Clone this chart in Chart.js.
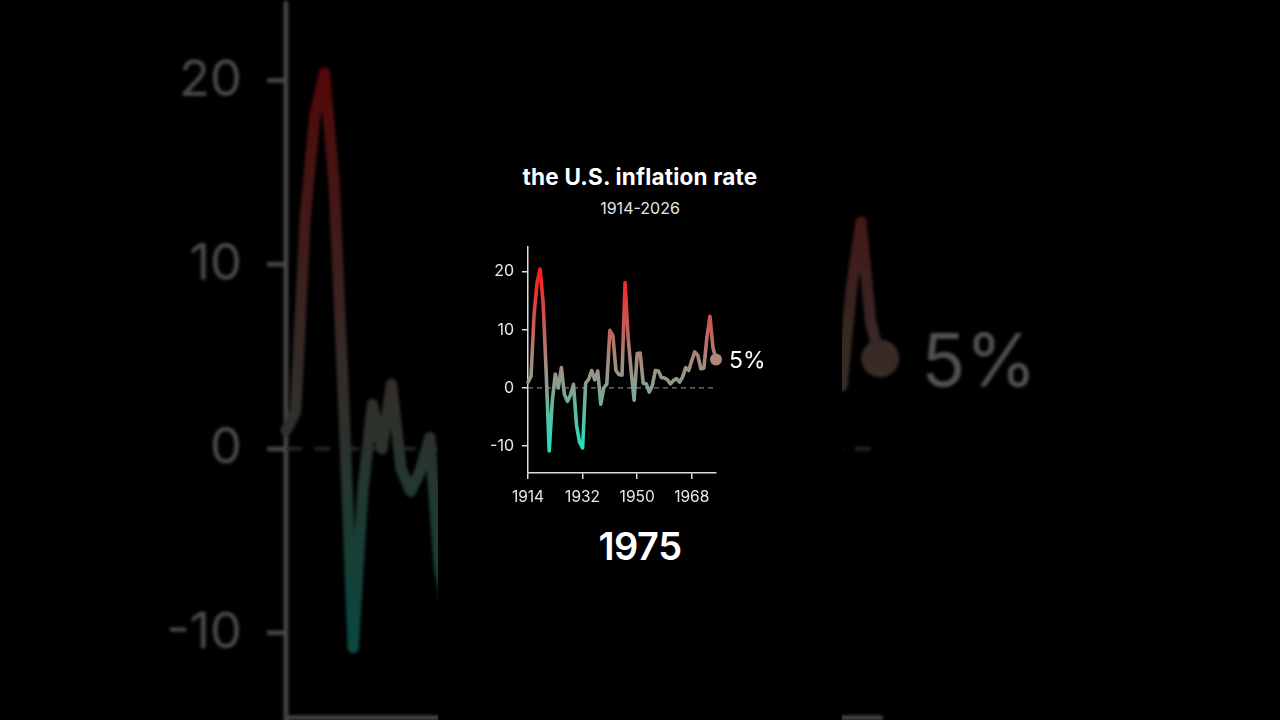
<!DOCTYPE html>
<html>
<head>
<meta charset="utf-8">
<script src="https://cdn.jsdelivr.net/npm/chart.js@4.4.1/dist/chart.umd.min.js"></script>
<style>
  html, body { margin: 0; padding: 0; background: #000; }
  body { width: 1280px; height: 720px; overflow: hidden; position: relative; font-family: Inter, "Noto Sans", sans-serif; }
  .wrap { position: absolute; left: 470px; top: 237px; width: 320px; height: 283px; }
  #bg { transform: scale(3.16); transform-origin: 170px 123px; opacity: 0.32; filter: blur(0.5px); }
  #mask { position: absolute; left: 438px; top: 0; width: 404px; height: 720px; background: #000; }
  .txt { position: absolute; left: 438px; width: 404px; text-align: center; color: #fff; }
  #title { top: 163px; font-size: 22.5px; font-weight: 700; letter-spacing: 0.2px; }
  #sub { top: 198px; font-size: 16px; color: #e6e6e6; }
  #year { top: 523px; font-size: 38px; font-weight: 600; letter-spacing: -0.5px; }
</style>
</head>
<body>
<div class="wrap" id="bg"><canvas id="bgChart" width="320" height="283"></canvas></div>
<div id="mask"></div>
<div class="wrap" id="fg"><canvas id="fgChart" width="320" height="283"></canvas></div>
<div class="txt" id="title">the U.S. inflation rate</div>
<div class="txt" id="sub">1914-2026</div>
<div class="txt" id="year">1975</div>
<script>
// годовая инфляция США, %, декабрь к декабрю
const years = [1914, 1915, 1916, 1917, 1918, 1919, 1920, 1921, 1922, 1923,
               1924, 1925, 1926, 1927, 1928, 1929, 1930, 1931, 1932, 1933,
               1934, 1935, 1936, 1937, 1938, 1939, 1940, 1941, 1942, 1943,
               1944, 1945, 1946, 1947, 1948, 1949, 1950, 1951, 1952, 1953,
               1954, 1955, 1956, 1957, 1958, 1959, 1960, 1961, 1962, 1963,
               1964, 1965, 1966, 1967, 1968, 1969, 1970, 1971, 1972, 1973,
               1974, 1975, 1976];
const rates = [1.0, 2.0, 12.6, 18.1, 20.4, 14.5, 2.6, -10.8, -2.3, 2.4,
               0.0, 3.5, -1.1, -2.3, -1.2, 0.6, -6.4, -9.3, -10.3, 0.8,
               1.5, 3.0, 1.4, 2.9, -2.8, 0.0, 0.7, 9.9, 9.0, 3.0,
               2.3, 2.2, 18.1, 8.8, 3.0, -2.1, 5.9, 6.0, 0.8, 0.7,
               -0.7, 0.4, 3.0, 2.9, 1.8, 1.7, 1.4, 0.7, 1.3, 1.6,
               1.0, 1.9, 3.5, 3.0, 4.7, 6.2, 5.6, 3.3, 3.4, 8.7,
               12.3, 6.9, 4.9];
const xTicks = [1914, 1932, 1950, 1968];
const yTicks = [-10, 0, 10, 20];
const lastLabel = '5%';

const axisColor = '#dcdcdc';

function lineGradient(ctx) {
    const chart = ctx.chart;
    if (!chart.chartArea) return '#999';
    const y = chart.scales.y;
    const g = chart.ctx.createLinearGradient(0, y.getPixelForValue(20), 0, y.getPixelForValue(-10));
    g.addColorStop(0, '#ff1c1c');
    g.addColorStop(0.33, '#c2605a');
    g.addColorStop(0.5, '#a8887a');
    g.addColorStop(0.67, '#86a290');
    g.addColorStop(1, '#22e0c0');
    return g;
}

// подпись значения справа от последней точки
const endLabel = {
    id: 'endLabel',
    afterDatasetsDraw(chart) {
        const meta = chart.getDatasetMeta(2);
        const pt = meta.data[0];
        if (!pt) return;
        const c = chart.ctx;
        c.save();
        c.font = '23px Inter, "Noto Sans", sans-serif';
        c.fillStyle = '#ffffff';
        c.textAlign = 'left';
        c.textBaseline = 'middle';
        c.fillText(lastLabel, pt.x + 13, pt.y + 2);
        c.restore();
    }
};

function makeChart(id, dpr) {
    const points = years.map((yr, i) => ({ x: yr, y: rates[i] }));
    const last = points[points.length - 1];
    return new Chart(document.getElementById(id), {
        type: 'line',
        data: {
            datasets: [
                {
                    data: points,
                    borderColor: lineGradient,
                    borderWidth: 3.6,
                    pointRadius: 0,
                    tension: 0,
                    borderJoinStyle: 'round',
                    borderCapStyle: 'round',
                    clip: false
                },
                {
                    data: [{ x: years[0], y: 0 }, { x: 1976, y: 0 }],
                    borderColor: '#7a7a7a',
                    borderWidth: 1.2,
                    borderDash: [5, 4],
                    pointRadius: 0,
                    order: 5
                },
                {
                    data: [last],
                    pointRadius: 6,
                    pointBackgroundColor: '#b08878',
                    pointBorderWidth: 0,
                    showLine: false,
                    clip: false
                }
            ]
        },
        options: {
            responsive: false,
            animation: false,
            devicePixelRatio: dpr,
            layout: { padding: { top: 10, right: 74, left: 0, bottom: 0 } },
            plugins: { legend: { display: false }, tooltip: { enabled: false } },
            scales: {
                x: {
                    type: 'linear',
                    min: 1914,
                    max: 1976,
                    afterBuildTicks: s => { s.ticks = xTicks.map(v => ({ value: v })); },
                    afterFit: s => { s.height = 47; s.paddingLeft = 0; s.paddingRight = 0; },
                    grid: { drawOnChartArea: false, drawTicks: true, tickLength: 6, color: axisColor, lineWidth: 1.5 },
                    border: { display: true, color: axisColor, width: 1.5 },
                    ticks: { color: '#e8e8e8', font: { family: 'Inter', size: 15.5 }, padding: 9, maxRotation: 0, callback: v => String(v) }
                },
                y: {
                    min: -14.6,
                    max: 24.2,
                    afterBuildTicks: s => { s.ticks = yTicks.map(v => ({ value: v })); },
                    afterFit: s => { s.width = 58; s.paddingTop = 0; s.paddingBottom = 0; },
                    grid: { drawOnChartArea: false, drawTicks: true, tickLength: 6, color: axisColor, lineWidth: 1.5 },
                    border: { display: true, color: axisColor, width: 1.5 },
                    ticks: { color: '#e8e8e8', font: { family: 'Inter', size: 16 }, padding: 8 }
                }
            }
        },
        plugins: [endLabel]
    });
}

makeChart('bgChart', 3.2);
makeChart('fgChart', 1);
</script>
</body>
</html>
